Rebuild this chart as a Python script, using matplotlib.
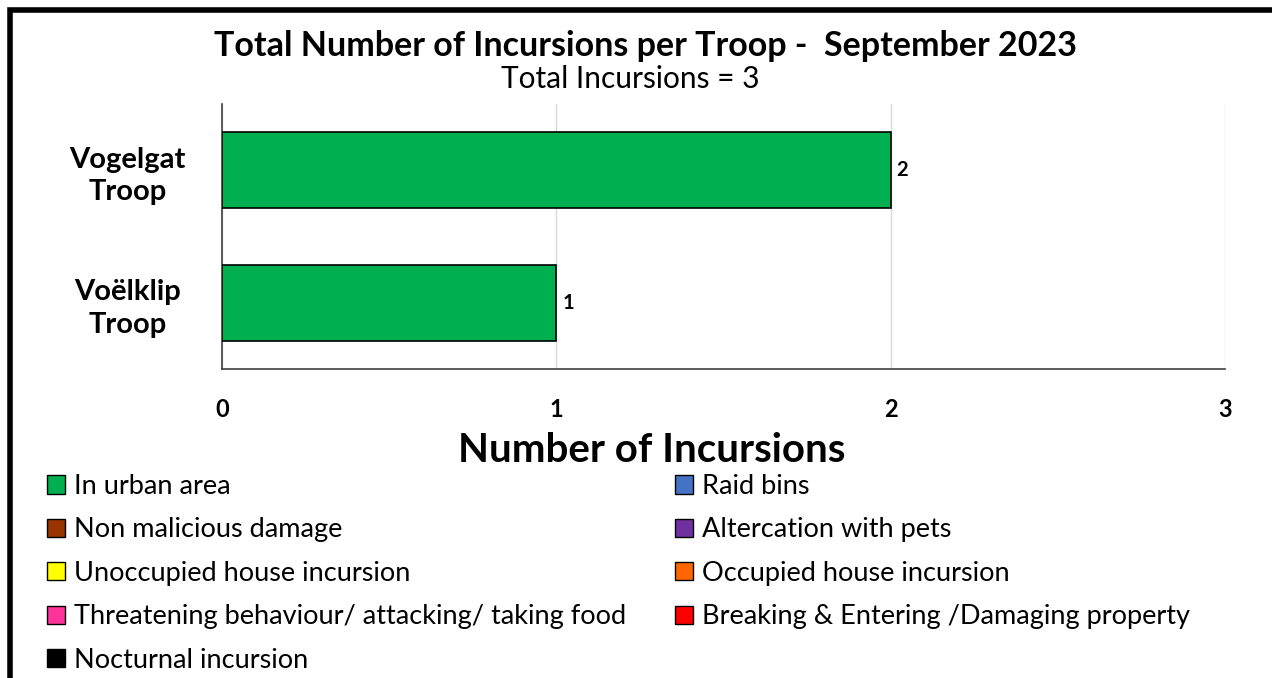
import matplotlib
matplotlib.use("Agg")
import matplotlib.pyplot as plt
from matplotlib.patches import Patch, Rectangle

troops = ["Voëlklip\nTroop", "Vogelgat\nTroop"]
in_urban_area = [1, 2]
categories = ["In urban area", "Raid bins", "Non malicious damage", "Altercation with pets",
              "Unoccupied house incursion", "Occupied house incursion",
              "Threatening behaviour/ attacking/ taking food",
              "Breaking & Entering /Damaging property", "Nocturnal incursion"]
cat_colors = ["#00B050", "#4472C4", "#993300", "#7030A0", "#FFFF00", "#FF6600",
              "#FF3399", "#FF0000", "#000000"]
x_ticks = [0, 1, 2, 3]

plt.rcParams['font.family'] = ['Lato', 'DejaVu Sans']

fig = plt.figure(figsize=(12.72, 6.78), dpi=100)
ax = fig.add_axes([222/1272, 1-369/678, (1225-222)/1272, (369-104)/678])

ypos = list(range(len(troops)))
bars = ax.barh(ypos, in_urban_area, height=0.576, color=cat_colors[0], edgecolor="black", linewidth=1.2, zorder=3)
for y, v in zip(ypos, in_urban_area):
    ax.text(v + 0.018, y, str(v), va="center", ha="left", fontsize=14.5, fontweight="bold")

ax.set_xlim(0, 3)
ax.set_ylim(-0.5, 1.5)
ax.set_xticks(x_ticks)
ax.set_xticklabels([str(t) for t in x_ticks], fontsize=17, fontweight="bold")
ax.set_yticks(ypos)
ax.set_yticklabels(troops, fontsize=21, fontweight="bold", ha="center", linespacing=1.3)
ax.tick_params(axis="y", length=0, pad=68)
ax.tick_params(axis="x", length=0, pad=21)
ax.grid(axis="x", color="#D9D9D9", linewidth=1, zorder=0)
for s in ["top", "right"]:
    ax.spines[s].set_visible(False)
ax.spines["left"].set_color("#404040")
ax.spines["bottom"].set_color("#404040")
ax.spines["left"].set_linewidth(1.2)
ax.spines["bottom"].set_linewidth(1.2)
ax.set_xlabel("Number of Incursions", fontsize=29, fontweight="bold", labelpad=8)
ax.xaxis.label.set_x((652-222)/1003)

fig.text(645/1272, 1-46/678, "Total Number of Incursions per Troop -  September 2023",
         ha="center", va="center", fontsize=24.5, fontweight="bold")
fig.text(630/1272, 1-79/678, "Total Incursions = 3", ha="center", va="center", fontsize=21.5)

handles = [Patch(facecolor=c, edgecolor="black", linewidth=1) for c in cat_colors]
order = [0, 2, 4, 6, 8, 1, 3, 5, 7]
leg = fig.legend([handles[i] for i in order], [categories[i] for i in order],
                 loc="upper left", bbox_to_anchor=(47/1272, 1-474/678), ncol=2,
                 frameon=False, fontsize=19.5, handlelength=0.65, handleheight=0.65,
                 handletextpad=0.35, labelspacing=0.68, columnspacing=1.8, borderpad=0,
                 borderaxespad=0)

fig.patches.append(Rectangle((10/1272, -0.1), 1.2, 1 - 10/678 + 0.1, transform=fig.transFigure,
                             fill=False, edgecolor="black", linewidth=4))

fig.savefig("out.png", dpi=100)
